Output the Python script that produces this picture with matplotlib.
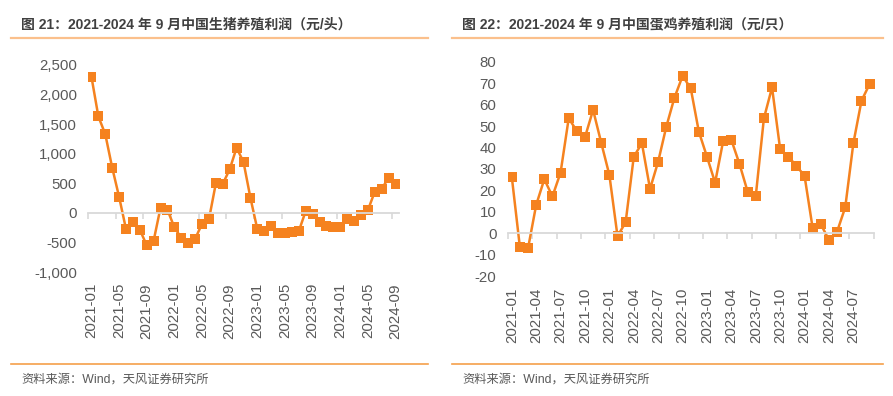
import matplotlib
matplotlib.use("Agg")
import matplotlib.pyplot as plt
from matplotlib.lines import Line2D
from matplotlib.ticker import FuncFormatter
import pandas as pd

plt.rcParams['font.family'] = ['Liberation Sans', 'Noto Sans CJK SC']

# 月份 2021-01 ~ 2024-09
months = list(pd.period_range('2021-01', '2024-09', freq='M').strftime('%Y-%m'))

# 生猪养殖利润（元/头）
pig_profit = [2300, 1630, 1330, 765, 270, -275, -160, -285, -550, -470,
              90, 50, -245, -425, -510, -440, -185, -110, 500, 490,
              735, 1100, 860, 255, -275, -315, -230, -340, -335, -325,
              -310, 30, -20, -150, -230, -240, -245, -110, -135, -40,
              45, 360, 410, 590, 480]

# 蛋鸡养殖利润（元/只）
egg_profit = [26.4, -6.5, -7, 13.2, 25.2, 17.2, 28.3, 53.6, 47.7, 44.8,
              57.5, 42.2, 27.2, -1.3, 5.1, 35.7, 42, 20.7, 33.4, 49.7,
              63.2, 73.3, 67.7, 47.4, 35.7, 23.6, 43.2, 43.5, 32.3, 19.4,
              17.4, 53.6, 68, 39.2, 35.7, 31.5, 26.7, 2.3, 4.2, -3.1,
              0.8, 12.1, 42, 61.8, 69.6]

titles = ['图 21：2021-2024 年 9 月中国生猪养殖利润（元/头）',
          '图 22：2021-2024 年 9 月中国蛋鸡养殖利润（元/只）']
source = '资料来源：Wind，天风证券研究所'

orange = '#F5821F'
gray_txt = '#595959'
grid_c = '#D9D9D9'
fs = 10.8

fig = plt.figure(figsize=(8.93, 3.96), dpi=100)


def draw_panel(rect, values, yticks, ylim, step, fmt):
    ax = fig.add_axes(rect)
    x = list(range(len(values)))
    ax.plot(x, values, color=orange, lw=1.8, marker='s', ms=7.2, mew=0)
    ax.set_xlim(-0.5, len(values) - 0.5)
    ax.set_ylim(*ylim)
    ax.set_yticks(yticks)
    ax.yaxis.set_major_formatter(FuncFormatter(fmt))
    ax.tick_params(axis='y', length=0, pad=8, labelsize=fs, labelcolor=gray_txt)
    for s in ['left', 'right', 'top']:
        ax.spines[s].set_visible(False)
    # 0 轴线和分隔刻度
    ax.spines['bottom'].set_position(('data', 0))
    ax.spines['bottom'].set_color(grid_c)
    ax.spines['bottom'].set_linewidth(1.3)
    bounds = [i - 0.5 for i in range(0, len(values) + 1, step)]
    ax.set_xticks(bounds)
    ax.tick_params(axis='x', direction='out', length=4, width=1.2,
                   color=grid_c, labelbottom=False)
    # 底部日期标签
    sec = ax.secondary_xaxis('bottom')
    pos = list(range(0, len(values), step))
    sec.set_xticks(pos, [months[i] for i in pos], rotation=90,
                   fontsize=fs, color=gray_txt)
    sec.tick_params(length=0, pad=8)
    sec.spines['bottom'].set_visible(False)
    return ax


draw_panel([88 / 893, 1 - 272 / 396, 311 / 893, 207 / 396], pig_profit,
           list(range(-1000, 2501, 500)), (-1000, 2500), 4,
           lambda v, p: f'{v:,.0f}')
draw_panel([507.7 / 893, 1 - 276.2 / 396, 366 / 893, 214.5 / 396], egg_profit,
           list(range(-20, 81, 10)), (-20, 80), 3,
           lambda v, p: f'{v:.0f}')

# 标题、分隔线、资料来源
for x0, x1, tx, t in [(11, 428, 21, titles[0]), (452, 883, 462, titles[1])]:
    fig.text(tx / 893, 1 - 24.5 / 396, t, fontsize=10, fontweight='bold',
             color='#404040', va='center', ha='left')
    fig.add_artist(Line2D([x0 / 893, x1 / 893], [1 - 37.7 / 396] * 2,
                          transform=fig.transFigure, color='#FBC08C', lw=1.6))
    fig.add_artist(Line2D([x0 / 893, x1 / 893], [1 - 364 / 396] * 2,
                          transform=fig.transFigure, color='#F5A04A', lw=1.2))
    fig.text(tx / 893, 1 - 380 / 396, source, fontsize=8.8, color=gray_txt,
             va='center', ha='left')

fig.savefig('out.png', dpi=100)
